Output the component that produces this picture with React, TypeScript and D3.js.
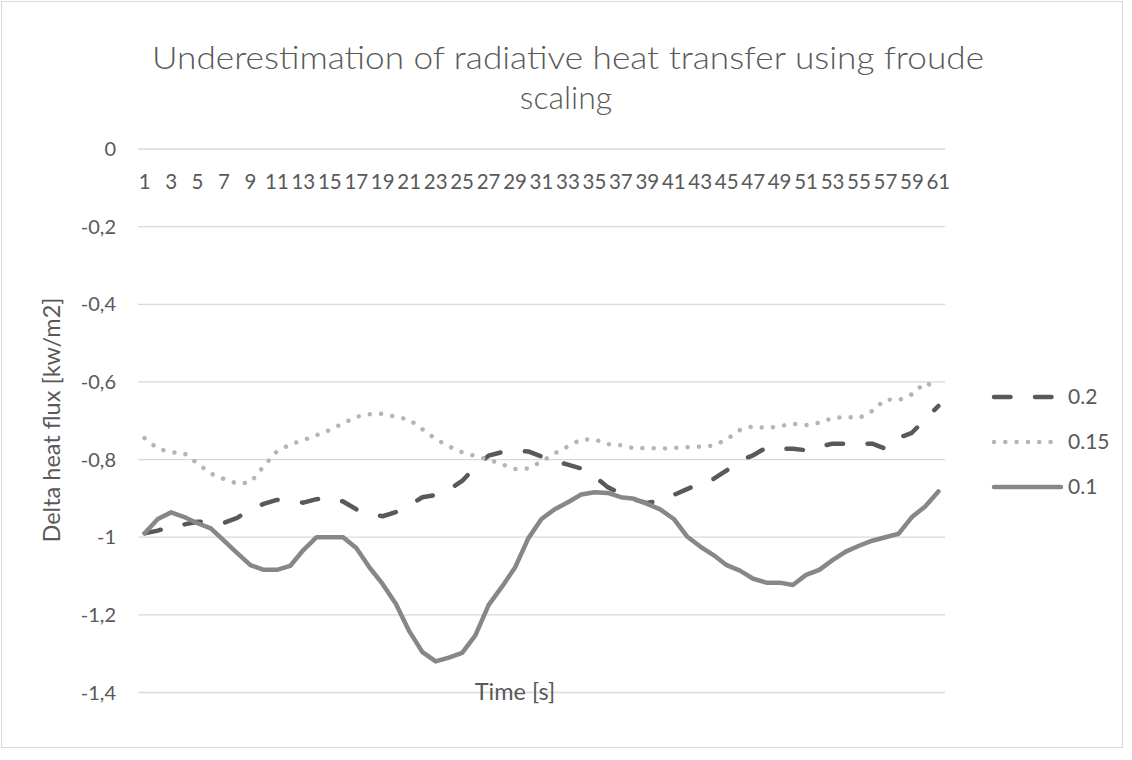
import * as React from "react";
import * as d3 from "d3";

// 61 samples per series
const categories = d3.range(1, 62).map(String);

const series02 = [
  -0.99, -0.983, -0.972, -0.967, -0.96, -0.96, -0.963, -0.95, -0.929, -0.914,
  -0.904, -0.906, -0.911, -0.902, -0.899, -0.908, -0.928, -0.94, -0.946, -0.935,
  -0.918, -0.897, -0.891, -0.878, -0.855, -0.819, -0.79, -0.781, -0.778, -0.779,
  -0.792, -0.804, -0.813, -0.823, -0.843, -0.871, -0.888, -0.903, -0.912, -0.905,
  -0.891, -0.876, -0.862, -0.85, -0.828, -0.802, -0.789, -0.769, -0.772, -0.772,
  -0.776, -0.767, -0.759, -0.759, -0.759, -0.759, -0.772, -0.744, -0.731, -0.696,
  -0.662,
];

const series015 = [
  -0.745, -0.772, -0.781, -0.784, -0.81, -0.836, -0.85, -0.862, -0.859, -0.817,
  -0.779, -0.761, -0.75, -0.737, -0.724, -0.707, -0.69, -0.683, -0.682, -0.69,
  -0.697, -0.722, -0.747, -0.766, -0.781, -0.791, -0.8, -0.812, -0.824, -0.823,
  -0.805, -0.784, -0.766, -0.748, -0.748, -0.76, -0.763, -0.771, -0.77, -0.772,
  -0.77, -0.768, -0.767, -0.764, -0.748, -0.724, -0.714, -0.719, -0.714, -0.708,
  -0.711, -0.705, -0.693, -0.69, -0.693, -0.675, -0.645, -0.647, -0.632, -0.602,
  -0.616,
];

const series01 = [
  -0.99, -0.953, -0.936, -0.948, -0.964, -0.977, -1.009, -1.041, -1.072, -1.084,
  -1.084, -1.074, -1.033, -1.0, -1.0, -1.0, -1.028, -1.078, -1.121, -1.172,
  -1.242, -1.296, -1.32, -1.31, -1.298, -1.253, -1.175, -1.128, -1.078, -1.003,
  -0.953, -0.928, -0.91, -0.89, -0.884, -0.886, -0.897, -0.901, -0.914, -0.929,
  -0.953, -0.998, -1.024, -1.046, -1.072, -1.086, -1.107, -1.117, -1.117, -1.123,
  -1.097, -1.084, -1.059, -1.037, -1.022, -1.009, -1.0, -0.991, -0.948, -0.921,
  -0.882,
];

const seriesNames = ["0.2", "0.15", "0.1"];

const FONT = "Lato, 'Open Sans', sans-serif";
const TEXT = "#595959";

const styles = [
  { color: "#595959", dash: "16.5 24.5" },
  { color: "#b5b5b5", dash: "0.01 11.3" },
  { color: "#878787", dash: undefined as string | undefined },
];

const fmt = d3.formatLocale({
  decimal: ",",
  thousands: ".",
  grouping: [3],
  currency: ["", ""],
  minus: "-",
}).format(".1~f");

const App: React.FC = () => {
  const width = 1132;
  const height = 760;
  const left = 138;
  const right = 945;
  const top = 149;
  const bottom = 692.5;

  const x = d3.scaleBand<string>().domain(categories).range([left, right]);
  const y = d3.scaleLinear().domain([-1.4, 0]).range([bottom, top]);
  const cx = (i: number) => (x(categories[i]) as number) + x.bandwidth() / 2;

  const line = d3
    .line<number>()
    .x((d, i) => cx(i))
    .y((d) => y(d));

  const data = [series02, series015, series01];
  const yTicks = y.ticks(7);
  const legendY = [397, 442, 487];

  return (
    <svg
      width={width}
      height={height}
      style={{ position: "absolute", left: 0, top: 0, background: "#fff" }}
      fontFamily={FONT}
    >
      <rect x={1.5} y={1.5} width={1121} height={746} fill="#fff" stroke="#d9d9d9" />

      <text x={568} y={69} textAnchor="middle" fontSize={32} fontWeight={300} fill={TEXT} textLength={832} lengthAdjust="spacingAndGlyphs">
        Underestimation of radiative heat transfer using froude
      </text>
      <text x={566} y={109} textAnchor="middle" fontSize={32} fontWeight={300} fill={TEXT}>
        scaling
      </text>

      {/* gridlines + y labels */}
      <g>
        {yTicks.map((t) => (
          <g key={t}>
            <line x1={left} x2={right} y1={y(t)} y2={y(t)} stroke="#d9d9d9" strokeWidth={1.3} />
            <text x={116} y={y(t)} dy="0.35em" textAnchor="end" fontSize={20} fill={TEXT}>
              {fmt(t)}
            </text>
          </g>
        ))}
      </g>

      {/* category labels, every other one, below the zero line */}
      <g>
        {categories.map((c, i) =>
          i % 2 === 0 ? (
            <text key={c} x={cx(i)} y={189} textAnchor="middle" fontSize={20.5} fill={TEXT}>
              {c}
            </text>
          ) : null
        )}
      </g>

      <text
        transform={`translate(52,420) rotate(-90)`}
        textAnchor="middle"
        dy="0.35em"
        fontSize={23.5}
        fill={TEXT}
      >
        Delta heat flux [kw/m2]
      </text>

      <text x={515} y={692} dy="0.35em" textAnchor="middle" fontSize={23.5} fill={TEXT}>
        Time [s]
      </text>

      {data.map((d, k) => (
        <path
          key={k}
          d={line(d) || undefined}
          fill="none"
          stroke={styles[k].color}
          strokeWidth={4.5}
          strokeDasharray={styles[k].dash}
          strokeLinecap="round"
          strokeLinejoin="round"
        />
      ))}

      {/* legend */}
      {seriesNames.map((name, k) => (
        <g key={name}>
          <line
            x1={994}
            x2={1061}
            y1={legendY[k]}
            y2={legendY[k]}
            stroke={styles[k].color}
            strokeWidth={4.5}
            strokeDasharray={styles[k].dash}
            strokeLinecap="round"
          />
          <text x={1068} y={legendY[k]} dy="0.35em" fontSize={21} fill={TEXT}>
            {name}
          </text>
        </g>
      ))}
    </svg>
  );
};

export default App;
